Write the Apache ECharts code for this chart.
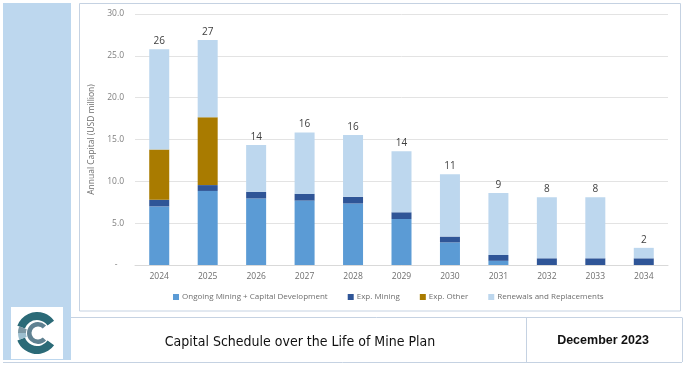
<!DOCTYPE html>
<html>
<head>
<meta charset="utf-8">
<script src="https://cdn.jsdelivr.net/npm/echarts@6/dist/echarts.min.js"></script>
<style>
html,body{margin:0;padding:0;background:#fff;}
#c{width:685px;height:368px;}
</style>
</head>
<body>
<div id="c"></div>
<script>
const years = ['2024','2025','2026','2027','2028','2029','2030','2031','2032','2033','2034'];
const ongoing = [7.0, 8.85, 7.95, 7.7, 7.35, 5.5, 2.7, 0.5, 0, 0, 0];
const expMining = [0.8, 0.7, 0.8, 0.8, 0.8, 0.8, 0.7, 0.7, 0.8, 0.8, 0.8];
const expOther = [6.0, 8.1, 0, 0, 0, 0, 0, 0, 0, 0, 0];
const renewals = [12.0, 9.25, 5.6, 7.35, 7.4, 7.3, 7.45, 7.4, 7.3, 7.3, 1.25];
const seriesNames = ['Ongoing Mining + Capital Development', 'Exp. Mining', 'Exp. Other', 'Renewals and Replacements'];
const yTicks = [0, 5, 10, 15, 20, 25, 30];
const chartTitle = 'Capital Schedule over the Life of Mine Plan';
const dateText = 'December 2023';
const yName = 'Annual Capital (USD million)';

const totals = years.map((_, i) => ongoing[i] + expMining[i] + expOther[i] + renewals[i]);
const font = '"Open Sans", sans-serif';
const colors = ['#5b9bd5', '#2f5597', '#a97b00', '#bdd7ee'];

const chart = echarts.init(document.getElementById('c'), null, {renderer: 'canvas'});
const lineCol = '#c5d2e2';
chart.setOption({
  animation: false,
  color: colors,
  textStyle: {fontFamily: font},
  grid: {left: 135, right: 17, top: 14, bottom: 103},
  legend: {
    bottom: 62, left: 168,
    itemWidth: 6, itemHeight: 6, itemGap: 20,
    icon: 'rect',
    textStyle: {fontSize: 8, color: '#6e6e6e', fontFamily: font, padding: [0, 0, 0, -2]},
    data: seriesNames
  },
  xAxis: {
    type: 'category', data: years,
    axisLine: {lineStyle: {color: '#d9d9d9'}},
    axisTick: {show: false},
    axisLabel: {fontSize: 8.5, color: '#6e6e6e', margin: 7}
  },
  yAxis: {
    type: 'value', min: yTicks[0], max: yTicks[yTicks.length - 1], interval: 5,
    name: yName, nameLocation: 'middle', nameGap: 32,
    nameTextStyle: {fontSize: 8.5, color: '#6e6e6e'},
    axisLine: {show: false}, axisTick: {show: false},
    splitLine: {lineStyle: {color: '#e3e3e3'}},
    axisLabel: {fontSize: 8.5, color: '#7f7f7f', margin: 11,
      formatter: v => v === 0 ? '-   ' : v.toFixed(1)}
  },
  series: [
    {name: seriesNames[0], type: 'bar', stack: 't', barWidth: 20, data: ongoing},
    {name: seriesNames[1], type: 'bar', stack: 't', barWidth: 20, data: expMining},
    {name: seriesNames[2], type: 'bar', stack: 't', barWidth: 20, data: expOther},
    {name: seriesNames[3], type: 'bar', stack: 't', barWidth: 20, data: renewals,
      label: {show: true, position: 'top', distance: 3, fontSize: 10, color: '#404040', fontWeight: 500,
        formatter: p => Math.round(totals[p.dataIndex]).toString()}}
  ],
  graphic: [
    {type: 'rect', z: -10, shape: {x: 3, y: 3, width: 68, height: 357}, style: {fill: '#bdd7ee'}},
    {type: 'rect', z: -9, shape: {x: 79.5, y: 3.5, width: 601, height: 307.5}, style: {fill: '#fff', stroke: lineCol, lineWidth: 1}},
    {type: 'line', z: -9, shape: {x1: 71, y1: 317.5, x2: 682, y2: 317.5}, style: {stroke: lineCol, lineWidth: 1}},
    {type: 'line', z: -9, shape: {x1: 3, y1: 362.5, x2: 682, y2: 362.5}, style: {stroke: lineCol, lineWidth: 1}},
    {type: 'line', z: -9, shape: {x1: 526.5, y1: 317.5, x2: 526.5, y2: 362}, style: {stroke: lineCol, lineWidth: 1}},
    {type: 'line', z: -9, shape: {x1: 682.5, y1: 317.5, x2: 682.5, y2: 362}, style: {stroke: lineCol, lineWidth: 1}},
    // logo
    {type: 'rect', z: -8, shape: {x: 11, y: 307, width: 52, height: 52}, style: {fill: '#fff'}},
    {type: 'sector', z: -7, shape: {cx: 37, cy: 333, r: 21, r0: 13, startAngle: 0.62, endAngle: 2.78, clockwise: true}, style: {fill: '#2b6a77'}},
    {type: 'sector', z: -7, shape: {cx: 37, cy: 333, r: 21, r0: 13, startAngle: 3.5, endAngle: 5.66, clockwise: true}, style: {fill: '#2b6a77'}},
    {type: 'sector', z: -7, shape: {cx: 37, cy: 333, r: 19, r0: 11, startAngle: 2.78, endAngle: 3.14, clockwise: true}, style: {fill: '#9dbfcf'}},
    {type: 'sector', z: -7, shape: {cx: 37, cy: 333, r: 19, r0: 11, startAngle: 3.14, endAngle: 3.5, clockwise: true}, style: {fill: '#7d98a4'}},
    {type: 'sector', z: -7, shape: {cx: 38, cy: 333, r: 11, r0: 6.5, startAngle: 0.75, endAngle: 5.53, clockwise: true}, style: {fill: '#5f8191'}},
    // texts
    {type: 'text', z: 5, x: 300, y: 342, style: {text: chartTitle, font: '14px "DejaVu Sans Condensed", sans-serif', fill: '#111', textAlign: 'center', textVerticalAlign: 'middle'}},
    {type: 'text', z: 5, x: 603, y: 341, style: {text: dateText, font: 'bold 12.5px "Liberation Sans", sans-serif', fill: '#111', textAlign: 'center', textVerticalAlign: 'middle'}}
  ]
});
</script>
</body>
</html>
